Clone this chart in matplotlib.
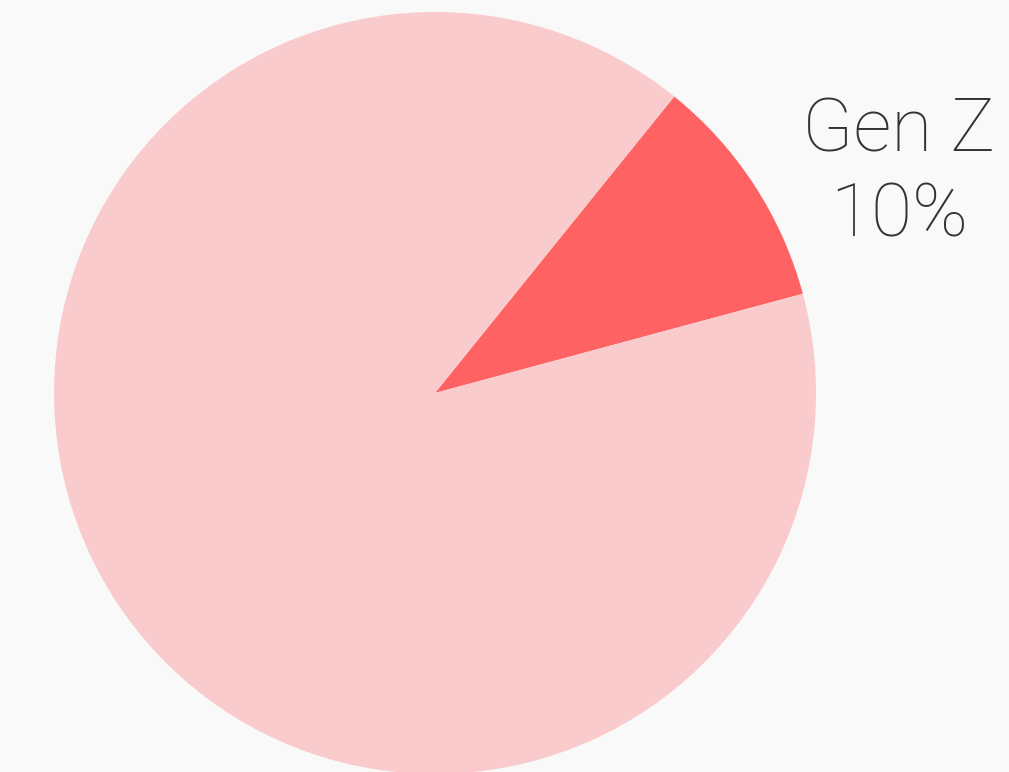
import matplotlib
matplotlib.use("Agg")
import matplotlib.pyplot as plt

labels = ["Gen Z", "Other"]
values = [10, 90]
colors = ["#FE6262", "#FACBCC"]
label_text = "Gen Z"
pct_text = "10%"

W, H = 1009, 772
fig = plt.figure(figsize=(W / 100, H / 100), dpi=100, facecolor="#F9F9F9")

cx, cy, r = 435, 393, 381
ax = fig.add_axes([(cx - r) / W, (H - cy - r) / H, 2 * r / W, 2 * r / H])
ax.set_facecolor("#F9F9F9")
ax.pie(values, colors=colors, startangle=15.1, counterclock=True, radius=1,
       wedgeprops=dict(linewidth=0))
ax.set_xlim(-1, 1)
ax.set_ylim(-1, 1)
ax.set_aspect("equal")
ax.axis("off")

fig.text(899 / W, 1 - 131 / H, label_text, ha="center", va="center",
         fontsize=54, color="#333333", family=["Roboto", "DejaVu Sans"], fontweight="light")
fig.text(899 / W, 1 - 216 / H, pct_text, ha="center", va="center",
         fontsize=54, color="#333333", family=["Roboto", "DejaVu Sans"], fontweight="light")

fig.savefig("out.png", dpi=100, facecolor=fig.get_facecolor())
